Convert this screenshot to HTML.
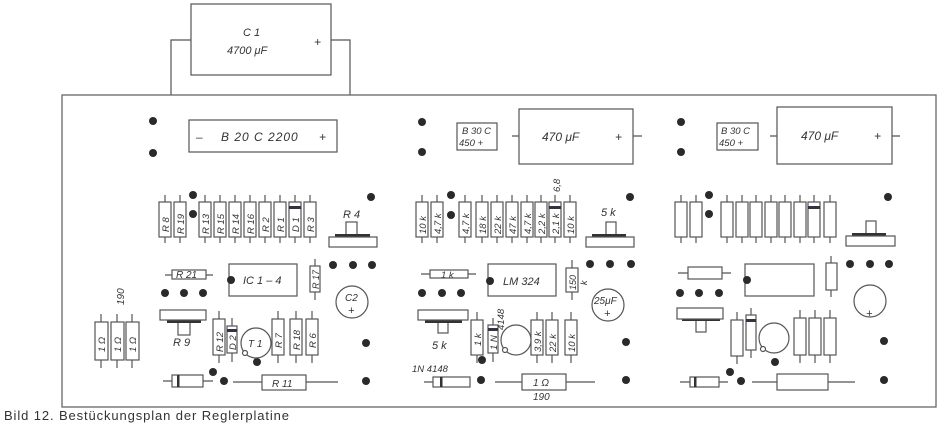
<!DOCTYPE html>
<html><head><meta charset="utf-8"><style>
html,body{margin:0;padding:0;background:#fff;}
svg{display:block}
text{font-family:"Liberation Sans",sans-serif;font-style:italic;fill:#333;}
.l{stroke:#555;stroke-width:1.2;fill:none}
.b{stroke:#555;stroke-width:1.2;fill:#fff}
.d{fill:#2a2a2a}
</style></head><body>
<svg width="944" height="426" viewBox="0 0 944 426" xmlns="http://www.w3.org/2000/svg">
<!-- C1 -->
<rect class="b" x="191" y="4" width="140" height="71"/>
<polyline class="l" points="191,40 171,40 171,95"/>
<polyline class="l" points="331,40 350,40 350,95"/>
<text x="243" y="36" font-size="11">C 1</text>
<text x="227" y="54" font-size="11">4700 μF</text>
<text x="314" y="46" font-size="12">+</text>
<!-- board -->
<rect x="62" y="95" width="874" height="312" fill="#fff" stroke="#666" stroke-width="1.3"/>
<!-- bridge left -->
<rect class="b" x="189" y="120" width="148" height="32"/>
<text x="196" y="141" font-size="12">–</text>
<text x="221" y="141" font-size="12" letter-spacing="1">B 20 C 2200</text>
<text x="319" y="141" font-size="12">+</text>
<g class="d">
<circle cx="153" cy="121" r="4"/><circle cx="153" cy="153" r="4"/>
<circle cx="422" cy="122" r="4"/><circle cx="422" cy="152" r="4"/>
<circle cx="681" cy="122" r="4"/><circle cx="681" cy="152" r="4"/>
</g>
<!-- B30C mid -->
<rect class="b" x="457" y="123" width="40" height="27"/>
<text x="462" y="134" font-size="9.5">B 30 C</text>
<text x="459" y="146" font-size="9.5">450 +</text>
<line class="l" x1="512" y1="136" x2="642" y2="136"/>
<rect class="b" x="519" y="109" width="114" height="55"/>
<text x="542" y="141" font-size="12">470 μF</text>
<text x="615" y="141" font-size="12">+</text>
<!-- B30C right -->
<rect class="b" x="717" y="123" width="41" height="27"/>
<text x="721" y="134" font-size="9.5">B 30 C</text>
<text x="719" y="146" font-size="9.5">450 +</text>
<line class="l" x1="770" y1="136" x2="900" y2="136"/>
<rect class="b" x="777" y="107" width="115" height="57"/>
<text x="801" y="140" font-size="12">470 μF</text>
<text x="874" y="140" font-size="12">+</text>

<!-- vertical resistor rows (top) -->
<g id="rows">
<!-- left -->
<g class="l">
<line x1="165" y1="195" x2="165" y2="243"/><line x1="180" y1="195" x2="180" y2="243"/>
<line x1="205" y1="195" x2="205" y2="243"/><line x1="220" y1="195" x2="220" y2="243"/>
<line x1="235" y1="195" x2="235" y2="243"/><line x1="250" y1="195" x2="250" y2="243"/>
<line x1="265" y1="195" x2="265" y2="243"/><line x1="280" y1="195" x2="280" y2="243"/>
<line x1="295" y1="195" x2="295" y2="243"/><line x1="310" y1="195" x2="310" y2="243"/>
<line x1="422" y1="195" x2="422" y2="243"/><line x1="437" y1="195" x2="437" y2="243"/>
<line x1="465" y1="195" x2="465" y2="243"/><line x1="482" y1="195" x2="482" y2="243"/>
<line x1="497" y1="195" x2="497" y2="243"/><line x1="512" y1="195" x2="512" y2="243"/>
<line x1="527" y1="195" x2="527" y2="243"/><line x1="541" y1="195" x2="541" y2="243"/>
<line x1="555" y1="195" x2="555" y2="243"/><line x1="570" y1="195" x2="570" y2="243"/>
<line x1="681" y1="195" x2="681" y2="243"/><line x1="696" y1="195" x2="696" y2="243"/>
<line x1="727" y1="195" x2="727" y2="243"/><line x1="742" y1="195" x2="742" y2="243"/>
<line x1="756" y1="195" x2="756" y2="243"/><line x1="771" y1="195" x2="771" y2="243"/>
<line x1="785" y1="195" x2="785" y2="243"/><line x1="800" y1="195" x2="800" y2="243"/>
<line x1="814" y1="195" x2="814" y2="243"/><line x1="830" y1="195" x2="830" y2="243"/>
</g>
<g class="b">
<rect x="159" y="202" width="12" height="35"/><rect x="174" y="202" width="12" height="35"/>
<rect x="199" y="202" width="12" height="35"/><rect x="214" y="202" width="12" height="35"/>
<rect x="229" y="202" width="12" height="35"/><rect x="244" y="202" width="12" height="35"/>
<rect x="259" y="202" width="12" height="35"/><rect x="274" y="202" width="12" height="35"/>
<rect x="289" y="202" width="12" height="35"/><rect x="304" y="202" width="12" height="35"/>
<rect x="416" y="202" width="12" height="35"/><rect x="431" y="202" width="12" height="35"/>
<rect x="459" y="202" width="12" height="35"/><rect x="476" y="202" width="12" height="35"/>
<rect x="491" y="202" width="12" height="35"/><rect x="506" y="202" width="12" height="35"/>
<rect x="521" y="202" width="12" height="35"/><rect x="535" y="202" width="12" height="35"/>
<rect x="549" y="202" width="12" height="35"/><rect x="564" y="202" width="12" height="35"/>
<rect x="675" y="202" width="12" height="35"/><rect x="690" y="202" width="12" height="35"/>
<rect x="721" y="202" width="12" height="35"/><rect x="736" y="202" width="12" height="35"/>
<rect x="750" y="202" width="12" height="35"/><rect x="765" y="202" width="12" height="35"/>
<rect x="779" y="202" width="12" height="35"/><rect x="794" y="202" width="12" height="35"/>
<rect x="808" y="202" width="12" height="35"/><rect x="824" y="202" width="12" height="35"/>
</g>
<g fill="#334">
<rect x="289" y="206" width="12" height="3"/><rect x="549" y="206" width="12" height="3"/><rect x="808" y="206" width="12" height="3"/>
</g>
</g>
<g font-size="9.5">
<text transform="translate(169,232) rotate(-90)">R 8</text>
<text transform="translate(184,234) rotate(-90)">R 19</text>
<text transform="translate(209,234) rotate(-90)">R 13</text>
<text transform="translate(224,234) rotate(-90)">R 15</text>
<text transform="translate(239,234) rotate(-90)">R 14</text>
<text transform="translate(254,234) rotate(-90)">R 16</text>
<text transform="translate(269,232) rotate(-90)">R 2</text>
<text transform="translate(284,232) rotate(-90)">R 1</text>
<text transform="translate(299,232) rotate(-90)">D 1</text>
<text transform="translate(314,232) rotate(-90)">R 3</text>
<text transform="translate(426,234) rotate(-90)">10 k</text>
<text transform="translate(441,234) rotate(-90)">4,7 k</text>
<text transform="translate(469,234) rotate(-90)">4,7 k</text>
<text transform="translate(486,234) rotate(-90)">18 k</text>
<text transform="translate(501,234) rotate(-90)">22 k</text>
<text transform="translate(516,234) rotate(-90)">47 k</text>
<text transform="translate(531,234) rotate(-90)">4,7 k</text>
<text transform="translate(545,234) rotate(-90)">2,2 k</text>
<text transform="translate(559,234) rotate(-90)">2,1 k</text>
<text transform="translate(574,234) rotate(-90)">10 k</text>
<text transform="translate(560,192) rotate(-90)">6,8</text>
</g>
<g class="d">
<circle cx="193" cy="195" r="4"/><circle cx="193" cy="214" r="4"/><circle cx="371" cy="197" r="4"/>
<circle cx="451" cy="195" r="4"/><circle cx="451" cy="215" r="4"/><circle cx="630" cy="197" r="4"/>
<circle cx="709" cy="195" r="4"/><circle cx="709" cy="214" r="4"/><circle cx="888" cy="197" r="4"/>
<circle cx="333" cy="265" r="4"/><circle cx="353" cy="265" r="4"/><circle cx="372" cy="265" r="4"/>
<circle cx="590" cy="264" r="4"/><circle cx="610" cy="264" r="4"/><circle cx="631" cy="264" r="4"/>
<circle cx="850" cy="264" r="4"/><circle cx="870" cy="264" r="4"/><circle cx="889" cy="264" r="4"/>
<circle cx="165" cy="293" r="4"/><circle cx="184" cy="293" r="4"/><circle cx="203" cy="293" r="4"/>
<circle cx="422" cy="293" r="4"/><circle cx="442" cy="293" r="4"/><circle cx="461" cy="293" r="4"/>
<circle cx="680" cy="293" r="4"/><circle cx="699" cy="293" r="4"/><circle cx="719" cy="293" r="4"/>
<circle cx="366" cy="343" r="4"/><circle cx="626" cy="342" r="4"/><circle cx="884" cy="341" r="4"/>
<circle cx="257" cy="362" r="4"/><circle cx="482" cy="360" r="4"/><circle cx="775" cy="362" r="4"/>
<circle cx="213" cy="372" r="4"/><circle cx="224" cy="381" r="4"/><circle cx="366" cy="381" r="4"/>
<circle cx="481" cy="380" r="4"/><circle cx="626" cy="380" r="4"/>
<circle cx="730" cy="372" r="4"/><circle cx="741" cy="381" r="4"/><circle cx="884" cy="380" r="4"/>
</g>
<!-- top pots -->
<g>
<rect class="b" x="346" y="222" width="11" height="14"/><rect x="335" y="234" width="35" height="3" fill="#333"/>
<rect class="b" x="329" y="237" width="48" height="10"/><text x="343" y="218" font-size="11">R 4</text>
<rect class="b" x="606" y="222" width="10" height="14"/><rect x="592" y="234" width="34" height="3" fill="#333"/>
<rect class="b" x="586" y="237" width="48" height="10"/><text x="601" y="216" font-size="11">5 k</text>
<rect class="b" x="866" y="221" width="10" height="14"/><rect x="852" y="233" width="34" height="3" fill="#333"/>
<rect class="b" x="846" y="236" width="49" height="10"/>
</g>
<!-- horizontal resistors middle -->
<line class="l" x1="165" y1="275" x2="213" y2="275"/><rect class="b" x="172" y="270" width="34" height="9"/>
<text x="176" y="278" font-size="10">R 21</text>
<line class="l" x1="421" y1="274" x2="476" y2="274"/><rect class="b" x="430" y="270" width="38" height="8"/>
<text x="441" y="278" font-size="9.5">1 k</text>
<line class="l" x1="678" y1="273" x2="731" y2="273"/><rect class="b" x="688" y="267" width="34" height="12"/>
<!-- ICs -->
<rect class="b" x="229" y="264" width="68" height="32"/><circle class="d" cx="231" cy="280" r="4"/>
<text x="243" y="284" font-size="11">IC 1 – 4</text>
<rect class="b" x="488" y="264" width="68" height="32"/><circle class="d" cx="490" cy="281" r="4"/>
<text x="503" y="285" font-size="11">LM 324</text>
<rect class="b" x="745" y="264" width="69" height="32"/><circle class="d" cx="747" cy="280" r="4"/>
<!-- small vertical -->
<line class="l" x1="315" y1="259" x2="315" y2="300"/><rect class="b" x="310" y="266" width="10" height="26"/>
<text transform="translate(319,289) rotate(-90)" font-size="9">R 17</text>
<line class="l" x1="572" y1="260" x2="572" y2="300"/><rect class="b" x="566" y="268" width="12" height="24"/>
<text transform="translate(576,290) rotate(-90)" font-size="9">150</text>
<text x="580" y="286" font-size="9" transform="rotate(-90 583 282)">k</text>
<line class="l" x1="831" y1="256" x2="831" y2="297"/><rect class="b" x="826" y="263" width="11" height="27"/>
<!-- electrolytic caps -->
<circle class="b" cx="352" cy="302" r="16"/><text x="345" y="301" font-size="10">C2</text><text x="348" y="314" font-size="11">+</text>
<circle class="b" cx="608" cy="305" r="16"/><text x="594" y="304" font-size="10">25μF</text><text x="604" y="317" font-size="11">+</text>
<circle class="b" cx="870" cy="301" r="16"/><text x="866" y="317" font-size="11">+</text>
<!-- bottom pots -->
<rect class="b" x="178" y="322" width="12" height="13"/><rect x="167" y="319" width="34" height="4" fill="#333"/>
<rect class="b" x="160" y="310" width="46" height="10"/><text x="173" y="346" font-size="11">R 9</text>
<rect class="b" x="438" y="322" width="10" height="11"/><rect x="425" y="319" width="37" height="4" fill="#333"/>
<rect class="b" x="418" y="310" width="50" height="10"/><text x="432" y="349" font-size="11">5 k</text>
<rect class="b" x="696" y="320" width="10" height="12"/><rect x="682" y="317" width="38" height="4" fill="#333"/>
<rect class="b" x="677" y="308" width="46" height="11"/>
<!-- 190 label and 1ohm resistors -->
<text transform="translate(124,305) rotate(-90)" font-size="10">190</text>
<g class="l">
<line x1="101" y1="314" x2="101" y2="368"/><line x1="117" y1="314" x2="117" y2="368"/><line x1="132" y1="314" x2="132" y2="368"/>
<line x1="219" y1="311" x2="219" y2="363"/><line x1="232" y1="318" x2="232" y2="362"/>
<line x1="278" y1="311" x2="278" y2="363"/><line x1="296" y1="311" x2="296" y2="363"/><line x1="312" y1="311" x2="312" y2="363"/>
<line x1="477" y1="312" x2="477" y2="363"/><line x1="493" y1="318" x2="493" y2="362"/>
<line x1="537" y1="312" x2="537" y2="363"/><line x1="552" y1="312" x2="552" y2="363"/><line x1="571" y1="312" x2="571" y2="363"/>
<line x1="737" y1="312" x2="737" y2="364"/><line x1="751" y1="308" x2="751" y2="358"/>
<line x1="800" y1="310" x2="800" y2="363"/><line x1="815" y1="310" x2="815" y2="363"/><line x1="830" y1="310" x2="830" y2="363"/>
</g>
<g class="b">
<rect x="95" y="322" width="13" height="38"/><rect x="111" y="322" width="13" height="38"/><rect x="126" y="322" width="13" height="38"/>
<rect x="213" y="319" width="12" height="36"/><rect x="227" y="326" width="10" height="27"/>
<rect x="272" y="319" width="12" height="36"/><rect x="290" y="319" width="12" height="36"/><rect x="306" y="319" width="12" height="36"/>
<rect x="471" y="320" width="12" height="35"/><rect x="488" y="325" width="10" height="28"/>
<rect x="531" y="320" width="12" height="35"/><rect x="546" y="320" width="12" height="35"/><rect x="565" y="320" width="12" height="35"/>
<rect x="731" y="320" width="12" height="36"/><rect x="746" y="315" width="10" height="35"/>
<rect x="794" y="318" width="12" height="37"/><rect x="809" y="318" width="12" height="37"/><rect x="824" y="318" width="12" height="37"/>
</g>
<g fill="#334"><rect x="227" y="329" width="10" height="3"/><rect x="488" y="328" width="10" height="3"/><rect x="746" y="319" width="10" height="3"/></g>
<g font-size="9.5">
<text transform="translate(105,352) rotate(-90)">1 Ω</text>
<text transform="translate(121,352) rotate(-90)">1 Ω</text>
<text transform="translate(136,352) rotate(-90)">1 Ω</text>
<text transform="translate(223,352) rotate(-90)">R 12</text>
<text transform="translate(236,350) rotate(-90)">D 2</text>
<text transform="translate(282,348) rotate(-90)">R 7</text>
<text transform="translate(300,350) rotate(-90)">R 18</text>
<text transform="translate(316,348) rotate(-90)">R 6</text>
<text transform="translate(481,346) rotate(-90)">1 k</text>
<text transform="translate(497,350) rotate(-90)">1 N</text>
<text transform="translate(504,330) rotate(-90)">4148</text>
<text transform="translate(541,352) rotate(-90)">3,9 k</text>
<text transform="translate(556,352) rotate(-90)">22 k</text>
<text transform="translate(575,352) rotate(-90)">10 k</text>
</g>
<!-- transistors -->
<circle class="b" cx="256" cy="343" r="15"/><circle class="b" cx="245" cy="353" r="2.5"/><text x="248" y="347" font-size="10">T 1</text>
<circle class="b" cx="516" cy="340" r="15"/><circle class="b" cx="505" cy="350" r="2.5"/>
<circle class="b" cx="774" cy="338" r="15"/><circle class="b" cx="763" cy="349" r="2.5"/>
<!-- bottom diodes and resistors -->
<line class="l" x1="163" y1="381" x2="213" y2="381"/><rect class="b" x="172" y="375" width="31" height="12"/><rect x="177" y="375" width="2.5" height="12" fill="#333"/>
<line class="l" x1="233" y1="382" x2="338" y2="382"/><rect class="b" x="262" y="375" width="44" height="15"/><text x="272" y="387" font-size="10">R 11</text>
<text x="412" y="372" font-size="9.5">1N 4148</text>
<line class="l" x1="424" y1="382" x2="470" y2="382"/><rect class="b" x="433" y="377" width="37" height="10"/><rect x="440" y="377" width="2.5" height="10" fill="#333"/>
<line class="l" x1="495" y1="382" x2="595" y2="382"/><rect class="b" x="522" y="374" width="44" height="16"/><text x="533" y="386" font-size="10">1 Ω</text>
<text x="533" y="400" font-size="10">190</text>
<line class="l" x1="680" y1="382" x2="728" y2="382"/><rect class="b" x="690" y="377" width="29" height="10"/><rect x="694" y="377" width="2.5" height="10" fill="#333"/>
<line class="l" x1="752" y1="382" x2="855" y2="382"/><rect class="b" x="777" y="374" width="51" height="16"/>
<!-- caption -->
<text x="4" y="420" font-size="13" textLength="285" style="font-style:normal" fill="#444">Bild 12. Bestückungsplan der Reglerplatine</text>
</svg>
</body></html>
